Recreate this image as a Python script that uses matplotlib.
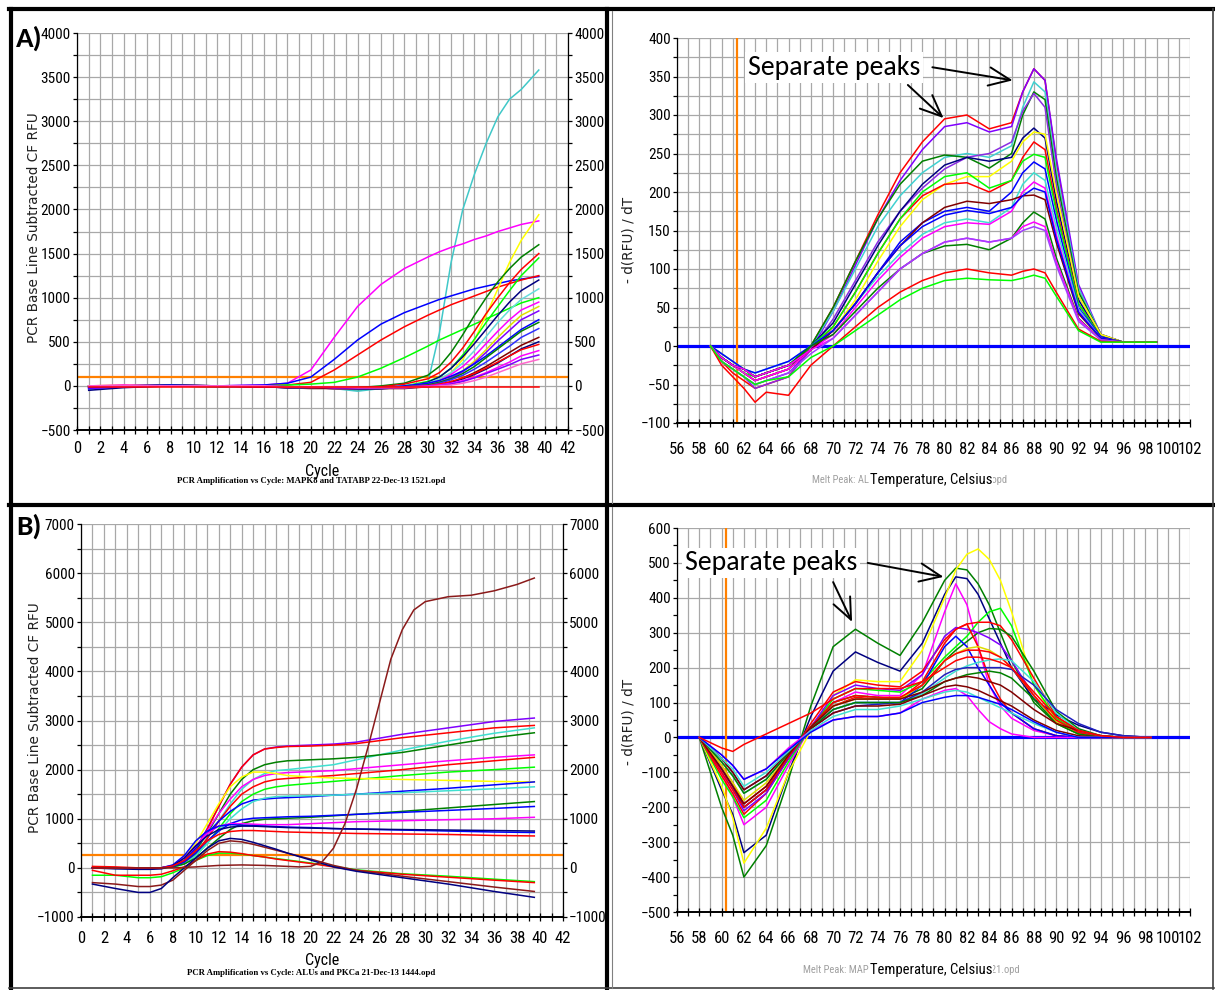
import matplotlib
matplotlib.use('Agg')
import matplotlib.pyplot as plt
from matplotlib.lines import Line2D
from matplotlib.ticker import MultipleLocator
from matplotlib import font_manager as fm

# ---------------------------------------------------------------- fonts
installed = set(f.name for f in fm.fontManager.ttflist)
def pick(*names):
	for n in names:
		if n in installed:
			return n
	return 'DejaVu Sans'
calib = pick('Carlito', 'Lato', 'Open Sans')
serif = pick('Liberation Serif', 'DejaVu Serif')

def find_narrow():
	# the instrument software uses a tall, narrow sans; look for any condensed sans face
	order = ['Liberation', 'Roboto', 'DejaVu', 'Noto', 'Open']
	found = []
	for f in fm.fontManager.ttflist:
		nm = f.name
		if not (('Narrow' in nm) or ('Condensed' in nm) or (f.stretch in ('condensed', 'semi-condensed', 'extra-condensed'))):
			continue
		if f.style != 'normal' or 'Mono' in nm or 'Serif' in nm or 'CJK' in nm:
			continue
		if f.weight not in (400, 'normal', 'regular', 'book', 'Regular'):
			continue
		rank = len(order)
		for i, o in enumerate(order):
			if o in nm:
				rank = i
				break
		found.append((rank, f.fname))
	if found:
		found.sort()
		return found[0][1]
	return None

narrow_path = find_narrow()
def nfont(size):
	if narrow_path:
		return fm.FontProperties(fname=narrow_path, size=size)
	return fm.FontProperties(family='Liberation Sans', size=size*0.9)

# ---------------------------------------------------------------- panel A, amplification
a_cycle = [1, 4, 8, 12, 16, 18, 20, 22, 24, 26, 28, 30, 31, 32, 33, 34, 35, 36, 37, 38, 39.5]
a_colors = ['#40c8c8', '#ff00ff', '#0000ff', '#ff0000', '#00ff00', '#ffff00', '#008000', '#ff0000',
			'#00ff00', '#000080', '#66dddd', '#ff00ff', '#e0e000', '#8000ff', '#0000ff', '#008000',
			'#3030ff', '#800000', '#000080', '#ff0000', '#ff00ff', '#8000ff', '#ff66cc', '#ff0000']
a_curves = [
	[-40, -10, 10, 0, -10, -10, -20, -30, -60, -30, -20, 30, 600, 1400, 2000, 2400, 2750, 3050, 3250, 3360, 3580],
	[-20, 0, 10, 0, 10, 30, 180, 550, 900, 1150, 1330, 1460, 1520, 1570, 1610, 1660, 1700, 1750, 1790, 1830, 1870],
	[-30, 0, 0, 0, 10, 30, 100, 300, 520, 700, 830, 930, 980, 1020, 1060, 1100, 1130, 1160, 1190, 1210, 1240],
	[-20, 0, 10, 0, 0, 10, 40, 180, 350, 520, 670, 800, 860, 920, 970, 1020, 1070, 1120, 1160, 1200, 1250],
	[-10, 0, 0, -10, 0, 10, 20, 40, 100, 200, 320, 450, 520, 580, 640, 700, 760, 820, 880, 940, 1000],
	[0, 10, 0, 0, -10, -10, -20, -30, -20, -20, 0, 20, 60, 150, 300, 520, 800, 1100, 1400, 1650, 1940],
	[-10, 0, 10, 0, 0, -10, -20, -20, -20, 0, 30, 120, 220, 380, 580, 800, 1000, 1180, 1330, 1460, 1600],
	[-10, 0, 0, 0, 0, -20, -30, -30, -30, -10, 20, 80, 150, 270, 430, 620, 820, 1000, 1170, 1320, 1500],
	[0, 0, 0, -10, -10, -20, -20, -30, -40, -30, 0, 50, 100, 200, 350, 530, 720, 900, 1080, 1250, 1450],
	[-50, -20, 0, 0, -10, -20, -20, -30, -40, -30, -10, 40, 100, 200, 330, 480, 640, 800, 950, 1080, 1200],
	[-20, 0, 0, -10, -10, -20, -30, -30, -30, -20, 0, 30, 80, 150, 260, 400, 560, 720, 860, 980, 1100],
	[0, 10, 0, 0, -10, -20, -20, -30, -30, -20, -10, 20, 60, 130, 220, 340, 480, 620, 750, 860, 950],
	[0, 0, 0, 0, -10, -10, -20, -20, -30, -30, -20, 10, 40, 90, 170, 280, 410, 550, 680, 800, 900],
	[-30, -10, 0, 0, -10, -10, -20, -20, -30, -30, -20, 10, 40, 90, 160, 260, 380, 510, 630, 750, 850],
	[-20, 0, 10, 0, 0, -10, -10, -20, -30, -20, 0, 30, 60, 110, 170, 250, 340, 440, 540, 640, 750],
	[0, 0, 0, 0, -10, -10, -20, -20, -20, -20, -10, 10, 40, 80, 140, 220, 320, 420, 520, 620, 720],
	[-10, 0, 0, -10, -10, -10, -20, -20, -30, -30, -20, 0, 30, 70, 120, 190, 270, 360, 450, 550, 650],
	[0, 0, 0, 0, -10, -20, -20, -30, -30, -30, -30, -10, 10, 40, 90, 150, 220, 300, 380, 460, 550],
	[-10, 0, 0, 0, -10, -20, -20, -20, -30, -30, -20, -10, 10, 40, 80, 130, 190, 260, 340, 420, 500],
	[0, 0, 0, 0, -10, -10, -20, -20, -20, -20, -20, 0, 20, 50, 90, 140, 200, 270, 340, 410, 470],
	[0, 0, 0, 0, 0, -10, -10, -20, -20, -20, -10, 0, 10, 30, 60, 100, 150, 210, 270, 340, 400],
	[-10, 0, 0, 0, -10, -10, -10, -20, -20, -20, -20, -10, 0, 20, 50, 90, 140, 190, 240, 300, 350],
	[0, 0, 0, 0, 0, -10, -10, -10, -20, -20, -20, -10, 0, 10, 30, 60, 100, 150, 200, 250, 300],
	[-10, -10, -10, -10, -10, -10, -10, -10, -10, -10, -10, -10, -10, -10, -10, -10, -10, -10, -10, -10, -10],
]
a_threshold = 100

# ---------------------------------------------------------------- panel A, melt peak
ar_temp = [59, 60, 61, 62, 63, 64, 66, 68, 70, 72, 74, 76, 78, 80, 82, 84, 86, 87, 88, 89, 90, 92, 94, 96, 99]
ar_colors = ['#ff0000', '#8000ff', '#40d0d0', '#008000', '#8a2be2', '#000080', '#ffff00', '#ff0000',
			 '#00ff00', '#0000ff', '#40e0d0', '#ff00ff', '#800000', '#0000ff', '#008000', '#ff00ff',
			 '#a040ff', '#ff0000', '#00ff00']
ar_curves = [
	[0, -20, -35, -45, -55, -50, -40, 0, 50, 110, 170, 225, 265, 295, 300, 282, 290, 330, 360, 345, 240, 75, 15, 5, 5],
	[0, -20, -30, -40, -50, -45, -35, -5, 45, 105, 165, 215, 255, 285, 290, 278, 285, 330, 360, 345, 245, 80, 15, 5, 5],
	[0, -15, -25, -35, -45, -40, -30, 0, 45, 100, 155, 195, 225, 245, 250, 245, 260, 310, 343, 330, 230, 75, 15, 5, 5],
	[0, -15, -25, -35, -45, -40, -30, 0, 50, 110, 165, 210, 240, 248, 245, 231, 250, 300, 330, 320, 220, 70, 15, 5, 5],
	[0, -20, -30, -40, -55, -50, -40, -5, 35, 85, 135, 175, 205, 230, 245, 250, 265, 305, 328, 310, 210, 65, 15, 5, 5],
	[0, -15, -25, -30, -40, -35, -25, 0, 30, 80, 130, 175, 210, 235, 245, 240, 245, 270, 283, 270, 190, 60, 12, 5, 5],
	[0, -10, -20, -30, -40, -35, -25, -5, 20, 60, 110, 155, 190, 210, 220, 220, 240, 265, 278, 275, 200, 65, 15, 5, 5],
	[0, -15, -25, -35, -45, -40, -30, -5, 25, 70, 120, 165, 195, 210, 212, 200, 215, 245, 265, 255, 180, 55, 12, 5, 5],
	[0, -15, -25, -35, -40, -35, -25, 0, 25, 70, 120, 165, 200, 220, 225, 205, 215, 240, 249, 245, 175, 55, 12, 5, 5],
	[0, -15, -25, -30, -40, -35, -25, -5, 20, 55, 95, 135, 160, 175, 180, 175, 200, 225, 239, 230, 165, 50, 12, 5, 5],
	[0, -10, -20, -30, -35, -30, -20, 0, 20, 55, 90, 120, 145, 160, 165, 160, 180, 210, 225, 215, 155, 48, 10, 5, 5],
	[0, -15, -25, -35, -45, -40, -30, -5, 15, 50, 85, 115, 140, 155, 160, 158, 175, 200, 213, 205, 145, 45, 10, 5, 5],
	[0, -15, -25, -30, -40, -35, -25, -5, 20, 55, 95, 130, 160, 180, 188, 185, 190, 195, 196, 190, 135, 42, 10, 5, 5],
	[0, -10, -20, -30, -35, -30, -20, 0, 20, 55, 95, 130, 155, 170, 176, 172, 180, 195, 205, 200, 140, 44, 10, 5, 5],
	[0, -15, -25, -30, -40, -35, -25, 0, 15, 45, 75, 100, 120, 130, 132, 125, 140, 160, 174, 165, 115, 36, 8, 5, 5],
	[0, -15, -25, -30, -40, -35, -25, -5, 10, 40, 70, 100, 120, 135, 140, 135, 140, 155, 161, 155, 110, 35, 8, 5, 5],
	[0, -20, -30, -40, -50, -45, -35, -10, 10, 40, 70, 100, 120, 135, 140, 135, 140, 150, 155, 150, 105, 32, 8, 5, 5],
	[0, -25, -40, -55, -73, -60, -64, -25, 0, 25, 50, 70, 85, 95, 100, 95, 92, 97, 100, 95, 70, 22, 6, 5, 5],
	[0, -20, -30, -40, -50, -45, -40, -15, 0, 20, 40, 60, 75, 85, 88, 86, 85, 88, 92, 88, 65, 20, 5, 5, 5],
]
ar_marker_temp = 61.4

# ---------------------------------------------------------------- panel B, amplification
b_cycle = [1, 3, 5, 6, 7, 8, 9, 10, 11, 12, 13, 14, 15, 16, 17, 18, 20, 22, 24, 28, 32, 36, 39.5]
b_colors = ['#8000ff', '#ff0000', '#40e0d0', '#008000', '#ff00ff', '#ff0000', '#00ff00', '#ffff00',
			'#0000ff', '#40e0d0', '#008000', '#0000ff', '#ff00ff', '#0000ff', '#000080', '#ff0000',
			'#00ff00', '#ff0000', '#8b1a1a', '#000080']
b_curves = [
	[0, 0, 0, 0, 0, 50, 150, 400, 800, 1250, 1700, 2050, 2300, 2420, 2460, 2480, 2500, 2520, 2560, 2720, 2850, 2980, 3050],
	[30, 20, 0, 0, 0, 40, 130, 380, 780, 1250, 1700, 2050, 2300, 2420, 2450, 2470, 2480, 2500, 2530, 2650, 2750, 2850, 2900],
	[0, 0, 0, 0, 0, 30, 100, 300, 600, 950, 1300, 1600, 1800, 1920, 1980, 2000, 2050, 2100, 2200, 2400, 2580, 2740, 2850],
	[0, 0, 0, 0, 0, 30, 120, 350, 700, 1100, 1500, 1800, 2000, 2100, 2150, 2180, 2200, 2220, 2250, 2350, 2500, 2650, 2750],
	[0, 0, 0, 0, 0, 40, 150, 400, 750, 1100, 1400, 1650, 1800, 1880, 1920, 1940, 1960, 1980, 2020, 2100, 2180, 2250, 2300],
	[0, 0, 0, 0, 0, 30, 100, 300, 600, 950, 1250, 1500, 1650, 1750, 1800, 1820, 1850, 1880, 1920, 2000, 2100, 2180, 2250],
	[0, 0, 0, 0, 0, 20, 80, 250, 500, 800, 1100, 1350, 1500, 1600, 1650, 1680, 1720, 1760, 1800, 1880, 1950, 2000, 2050],
	[0, 0, 0, 0, 0, 50, 200, 500, 900, 1300, 1650, 1850, 1950, 1950, 1920, 1880, 1850, 1830, 1820, 1800, 1780, 1760, 1750],
	[0, 0, 0, 0, 0, 30, 150, 400, 700, 950, 1150, 1300, 1380, 1400, 1420, 1430, 1450, 1480, 1500, 1560, 1620, 1690, 1750],
	[0, 0, 0, 0, 0, 20, 80, 250, 500, 750, 1000, 1200, 1350, 1420, 1450, 1460, 1470, 1480, 1500, 1530, 1570, 1610, 1650],
	[0, 0, 0, 0, 0, 20, 80, 200, 400, 600, 780, 900, 960, 990, 1000, 1010, 1030, 1060, 1090, 1150, 1220, 1290, 1350],
	[0, 0, 0, 0, 0, 30, 120, 300, 550, 750, 900, 980, 1010, 1020, 1030, 1040, 1050, 1070, 1090, 1130, 1170, 1210, 1250],
	[0, 0, 0, 0, 0, 50, 200, 450, 700, 850, 900, 900, 890, 880, 880, 880, 900, 920, 940, 960, 980, 1000, 1030],
	[0, 0, 0, 0, 0, 60, 250, 550, 750, 850, 880, 870, 860, 850, 840, 830, 820, 800, 790, 770, 750, 730, 720],
	[0, -20, -30, -30, -20, 40, 200, 450, 650, 780, 830, 850, 850, 840, 830, 820, 810, 800, 790, 780, 770, 760, 750],
	[0, 0, 0, 0, 0, 40, 150, 350, 550, 680, 740, 760, 760, 750, 740, 730, 720, 710, 700, 690, 680, 660, 650],
	[-150, -150, -200, -200, -180, -100, 0, 150, 250, 300, 300, 280, 250, 220, 190, 160, 100, 30, -40, -120, -170, -230, -280],
	[-50, -150, -150, -150, -130, -60, 20, 150, 280, 330, 320, 290, 250, 220, 180, 150, 90, 20, -50, -130, -190, -250, -300],
	[-300, -330, -380, -380, -350, -250, -50, 150, 350, 500, 550, 530, 480, 420, 360, 300, 180, 50, -50, -170, -280, -390, -480],
	[-330, -420, -500, -500, -420, -200, 0, 200, 400, 550, 600, 580, 520, 450, 380, 300, 160, 20, -70, -200, -330, -480, -600],
]
b_late_cycle = [1, 5, 8, 10, 12, 14, 16, 18, 19, 20, 21, 22, 23, 24, 25, 26, 27, 28, 29, 30, 32, 34, 36, 38, 39.5]
b_late_vals = [0, 0, 0, 20, 50, 60, 50, 30, 20, 30, 120, 400, 900, 1600, 2450, 3350, 4250, 4850, 5250, 5420, 5520, 5550, 5640, 5770, 5900]
b_threshold = 260

# ---------------------------------------------------------------- panel B, melt peak
br_temp = [58, 60, 61, 62, 64, 66, 68, 70, 72, 74, 76, 78, 80, 81, 82, 83, 84, 85, 86, 88, 90, 92, 94, 96, 98.5]
br_colors = ['#008000', '#000080', '#ffff00', '#ff00ff', '#00ff00', '#ff0000', '#008000', '#8000ff',
			 '#ff0000', '#0000ff', '#dddd00', '#ff0000', '#40e0d0', '#2020c0', '#008000', '#800000',
			 '#800000', '#ff00ff', '#40e0d0', '#0000ff', '#ff0000']
br_curves = [
	[0, -200, -280, -400, -310, -120, 90, 260, 310, 270, 235, 330, 450, 485, 480, 440, 380, 300, 220, 100, 40, 10, 0, 0, 0],
	[0, -150, -220, -330, -280, -100, 60, 190, 245, 215, 190, 270, 410, 460, 455, 410, 340, 270, 200, 110, 65, 35, 15, 5, 0],
	[0, -140, -230, -360, -260, -100, 20, 120, 165, 160, 160, 250, 400, 480, 525, 540, 510, 450, 360, 150, 50, 15, 0, 0, 0],
	[0, -100, -170, -250, -200, -80, 30, 100, 130, 120, 120, 180, 360, 440, 380, 260, 150, 90, 55, 20, 5, 0, 0, 0, 0],
	[0, -120, -170, -230, -180, -70, 30, 110, 140, 135, 130, 160, 230, 260, 290, 330, 360, 370, 320, 150, 55, 15, 5, 0, 0],
	[0, -110, -160, -220, -160, -60, 40, 130, 160, 150, 145, 190, 280, 310, 325, 330, 330, 320, 280, 170, 60, 20, 5, 0, 0],
	[0, -90, -140, -200, -150, -60, 30, 100, 120, 115, 110, 140, 220, 250, 275, 300, 312, 310, 290, 190, 75, 25, 5, 0, 0],
	[0, -100, -150, -210, -160, -60, 30, 120, 150, 140, 135, 180, 290, 315, 310, 300, 285, 265, 220, 120, 45, 15, 0, 0, 0],
	[0, -80, -130, -190, -140, -50, 30, 90, 115, 110, 110, 160, 270, 310, 325, 260, 170, 110, 70, 25, 5, 0, 0, 0, 0],
	[0, -90, -140, -200, -150, -55, 30, 80, 100, 100, 100, 150, 260, 290, 260, 200, 150, 100, 70, 25, 5, 0, 0, 0, 0],
	[0, -80, -130, -180, -130, -50, 30, 90, 110, 110, 110, 150, 220, 240, 255, 260, 250, 230, 200, 120, 45, 10, 0, 0, 0],
	[0, -100, -150, -200, -150, -55, 30, 100, 120, 115, 115, 150, 220, 240, 250, 250, 245, 230, 200, 120, 50, 15, 0, 0, 0],
	[0, -70, -110, -160, -120, -45, 25, 80, 100, 100, 100, 125, 170, 190, 205, 215, 222, 225, 220, 160, 70, 20, 5, 0, 0],
	[0, -60, -100, -150, -110, -40, 25, 70, 90, 95, 100, 130, 180, 195, 200, 200, 200, 200, 195, 150, 80, 40, 15, 5, 0],
	[0, -70, -110, -160, -120, -45, 25, 80, 100, 100, 100, 120, 160, 170, 180, 185, 190, 185, 170, 110, 40, 10, 0, 0, 0],
	[0, -90, -140, -190, -140, -50, 30, 90, 110, 110, 110, 130, 160, 170, 175, 170, 160, 150, 130, 80, 40, 20, 5, 0, 0],
	[0, -60, -100, -150, -110, -40, 25, 70, 90, 90, 95, 120, 145, 150, 145, 135, 120, 105, 90, 50, 20, 5, 0, 0, 0],
	[0, -50, -80, -120, -90, -30, 20, 50, 60, 60, 70, 110, 135, 140, 120, 80, 45, 25, 10, 0, 0, 0, 0, 0, 0],
	[0, -60, -90, -140, -100, -40, 20, 60, 80, 80, 90, 110, 130, 135, 130, 115, 100, 85, 70, 40, 15, 0, 0, 0, 0],
	[0, -50, -80, -120, -90, -35, 15, 50, 60, 60, 70, 100, 115, 120, 120, 115, 105, 95, 80, 45, 15, 0, 0, 0, 0],
	[0, -30, -40, -20, 10, 40, 70, 110, 140, 140, 140, 160, 200, 220, 230, 230, 225, 215, 200, 130, 60, 20, 5, 0, 0],
]
br_marker_temp = 60.4

# ---------------------------------------------------------------- layout helpers
W, H = 1215, 990
grid_col = '#a8a8a8'
orange = '#ff8000'

fig = plt.figure(figsize=(W/100.0, H/100.0), dpi=100)
fig.patch.set_facecolor('white')

def px_rect(l, t, r, b):
	return [l/float(W), 1-b/float(H), (r-l)/float(W), (b-t)/float(H)]

def ftext(x, y, s, **kw):
	return fig.text(x/float(W), 1-y/float(H), s, **kw)

def fline(x0, y0, x1, y1, **kw):
	fig.add_artist(Line2D([x0/float(W), x1/float(W)], [1-y0/float(H), 1-y1/float(H)],
						  transform=fig.transFigure, **kw))

def narrow_ticks(ax, xsize, ysize):
	for lbl in ax.get_xticklabels():
		lbl.set_fontproperties(nfont(xsize))
	for lbl in ax.get_yticklabels():
		lbl.set_fontproperties(nfont(ysize))
	for t in ax.yaxis.get_major_ticks():
		t.label2.set_fontproperties(nfont(ysize))

def amp_axes(rect, ymin, ymax, ymaj, ymin_step, xpad):
	ax = fig.add_axes(px_rect(*rect))
	ax.set_xlim(0, 42)
	ax.set_ylim(ymin, ymax)
	ax.xaxis.set_major_locator(MultipleLocator(2))
	ax.xaxis.set_minor_locator(MultipleLocator(1))
	ax.yaxis.set_major_locator(MultipleLocator(ymaj))
	ax.yaxis.set_minor_locator(MultipleLocator(ymin_step))
	ax.grid(True, which='both', color=grid_col, linewidth=0.9)
	ax.set_axisbelow(True)
	ax.tick_params(axis='x', which='both', direction='inout', length=6, width=0.9, pad=xpad)
	ax.tick_params(axis='y', which='both', direction='out', length=3, width=0.9, pad=1.5,
				   left=True, right=True, labelleft=True, labelright=True)
	ax.spines['top'].set_visible(False)
	for s in ('left', 'right'):
		ax.spines[s].set_linewidth(0.9)
	ax.spines['bottom'].set_linewidth(1.4)
	narrow_ticks(ax, 12, 11)
	return ax

def melt_axes(rect, ymin, ymax, ymaj, ymin_step, ygrid_minor):
	ax = fig.add_axes(px_rect(*rect))
	ax.set_xlim(56, 102)
	ax.set_ylim(ymin, ymax)
	ax.xaxis.set_major_locator(MultipleLocator(2))
	ax.xaxis.set_minor_locator(MultipleLocator(1))
	ax.yaxis.set_major_locator(MultipleLocator(ymaj))
	ax.yaxis.set_minor_locator(MultipleLocator(ymin_step))
	ax.grid(True, which='both', axis='x', color=grid_col, linewidth=0.9)
	ax.grid(True, which='both' if ygrid_minor else 'major', axis='y', color=grid_col, linewidth=0.9)
	ax.set_axisbelow(True)
	ax.tick_params(axis='x', which='both', direction='inout', length=6, width=0.9, pad=11)
	ax.tick_params(axis='y', which='both', direction='out', length=3, width=0.9, pad=1.5)
	ax.spines['top'].set_visible(False)
	ax.spines['right'].set_visible(False)
	ax.spines['left'].set_linewidth(0.9)
	ax.spines['bottom'].set_linewidth(1.4)
	narrow_ticks(ax, 12, 11)
	return ax

def peaks_note(ax, txt_xy, arrows):
	ax.text(txt_xy[0], txt_xy[1], 'Separate peaks', ha='center', va='center', fontsize=20,
			family=calib, zorder=10, bbox=dict(facecolor='white', edgecolor='none', pad=2))
	for start, end in arrows:
		ax.annotate('', xy=end, xytext=start, zorder=11,
					arrowprops=dict(arrowstyle='->,head_length=0.7,head_width=0.3', lw=1.4,
									color='black', mutation_scale=22, shrinkA=0, shrinkB=0))

# ---------------------------------------------------------------- A, amplification
ax = amp_axes((77, 33, 568, 430), -500, 4000, 500, 250, 5)
ax.axhline(a_threshold, color=orange, linewidth=1.6, zorder=2)
for vals, col in zip(a_curves, a_colors):
	ax.plot(a_cycle, vals, color=col, linewidth=1.1, zorder=3)

# ---------------------------------------------------------------- A, melt peak
ax = melt_axes((677, 38, 1190, 423), -100, 400, 50, 25, True)
ax.axhline(0, color='#0000ff', linewidth=2.3, zorder=2)
ax.axvline(ar_marker_temp, color=orange, linewidth=1.6, zorder=2)
for vals, col in zip(ar_curves, ar_colors):
	ax.plot(ar_temp, vals, color=col, linewidth=1.1, zorder=3)
peaks_note(ax, (70.1, 362), [((78.9, 362), (86.1, 345)), ((76.7, 339), (79.9, 296))])

# ---------------------------------------------------------------- B, amplification
ax = amp_axes((81, 524, 563, 917), -1000, 7000, 1000, 500, 7)
ax.axhline(b_threshold, color=orange, linewidth=1.6, zorder=2)
for vals, col in zip(b_curves, b_colors):
	ax.plot(b_cycle, vals, color=col, linewidth=1.1, zorder=3)
ax.plot(b_late_cycle, b_late_vals, color='#8b1a1a', linewidth=1.1, zorder=3)

# ---------------------------------------------------------------- B, melt peak
ax = melt_axes((677, 528, 1190, 912), -500, 600, 100, 50, False)
ax.axhline(0, color='#0000ff', linewidth=2.3, zorder=2)
ax.axvline(br_marker_temp, color=orange, linewidth=1.6, zorder=2)
for vals, col in zip(br_curves, br_colors):
	ax.plot(br_temp, vals, color=col, linewidth=1.1, zorder=3)
peaks_note(ax, (64.4, 500), [((73.1, 500), (79.9, 460)), ((70.0, 445), (71.7, 331))])

# ---------------------------------------------------------------- labels
ftext(16, 38, 'A)', fontsize=21, fontweight='bold', family=calib, ha='left', va='center')
ftext(16, 526, 'B)', fontsize=21, fontweight='bold', family=calib, ha='left', va='center')

ylab = 'PCR Base Line Subtracted CF RFU'
ftext(34, 228, ylab, rotation=90, ha='center', va='center', fontsize=9.8, color='#202020')
ftext(35, 718, ylab, rotation=90, ha='center', va='center', fontsize=9.8, color='#202020')
ftext(629, 240, '- d(RFU) / dT', rotation=90, ha='center', va='center', fontsize=9.8, color='#202020')
ftext(629, 722, '- d(RFU) / dT', rotation=90, ha='center', va='center', fontsize=9.8, color='#202020')

ftext(322, 471, 'Cycle', ha='center', va='center', fontproperties=nfont(11.5))
ftext(311, 481, 'PCR Amplification vs Cycle: MAPK8 and TATABP 22-Dec-13 1521.opd',
	  ha='center', va='center', fontsize=6.3, family=serif, fontweight='bold')
ftext(322, 961, 'Cycle', ha='center', va='center', fontproperties=nfont(11.5))
ftext(311, 973, 'PCR Amplification vs Cycle: ALUs and PKCa 21-Dec-13 1444.opd',
	  ha='center', va='center', fontsize=6.3, family=serif, fontweight='bold')

ftext(910, 480, 'Melt Peak: ALUs and PKCa 21-Dec-13 1444.opd', ha='center', va='center',
	  fontproperties=nfont(7.6), color='#a0a0a0')
ftext(931, 480, 'Temperature, Celsius', ha='center', va='center', fontproperties=nfont(10.5),
	  bbox=dict(facecolor='white', edgecolor='none', pad=0.5))
ftext(911, 970, 'Melt Peak: MAPK8 and TATABP 22-Dec-13 1521.opd', ha='center', va='center',
	  fontproperties=nfont(7.6), color='#a0a0a0')
ftext(931, 970, 'Temperature, Celsius', ha='center', va='center', fontproperties=nfont(10.5),
	  bbox=dict(facecolor='white', edgecolor='none', pad=0.5))

# ---------------------------------------------------------------- frame
thick = 3.0
fline(9, 9, 1214, 9, color='black', linewidth=thick)
fline(11, 9, 11, 989, color='black', linewidth=thick)
fline(607, 9, 607, 989, color='black', linewidth=thick)
fline(9, 505, 1214, 505, color='black', linewidth=thick)
fline(1213, 9, 1213, 989, color='#404040', linewidth=1.2)
fline(9, 988, 1214, 988, color='#404040', linewidth=1.2)
fline(612, 11, 612, 503, color='#808080', linewidth=0.8)
fline(612, 507, 612, 988, color='#808080', linewidth=0.8)

plt.savefig('out.png', dpi=100)
plt.close()
